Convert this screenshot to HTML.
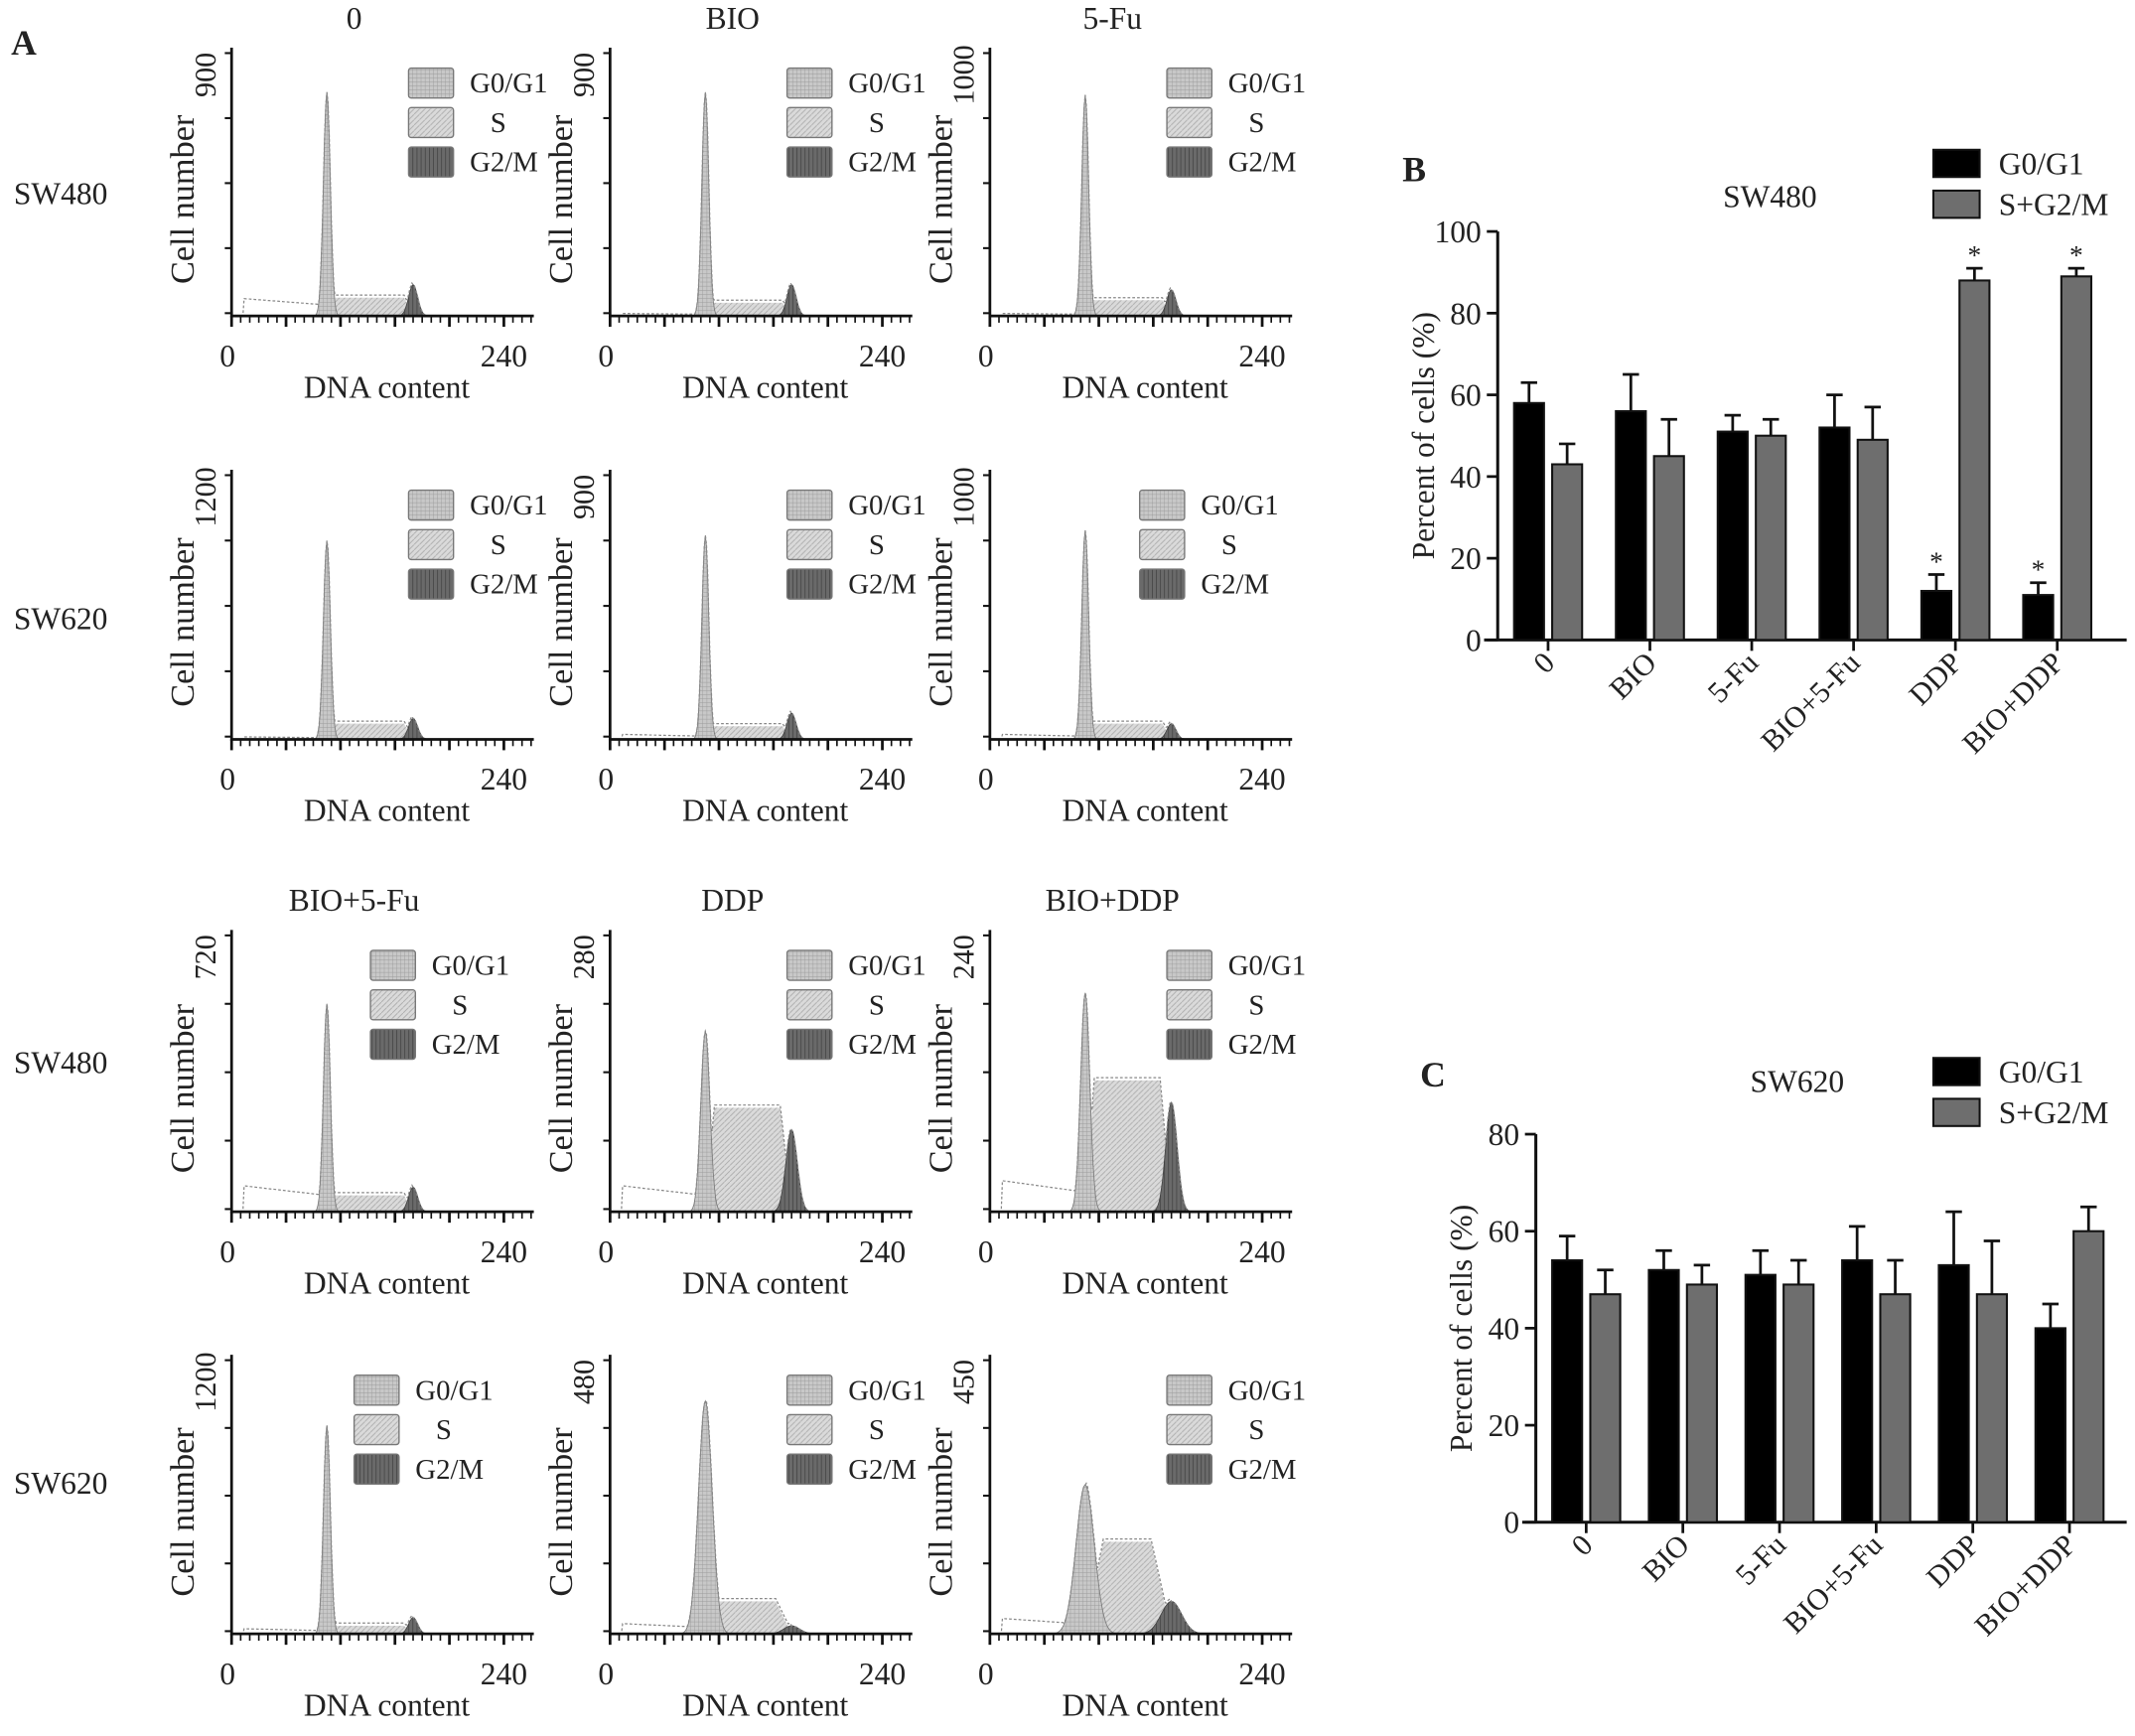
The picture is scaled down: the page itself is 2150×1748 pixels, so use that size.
<!DOCTYPE html>
<html><head><meta charset="utf-8">
<style>
html,body{margin:0;padding:0;background:#fff;}
svg{display:block;}
text{font-family:"Liberation Serif",serif;fill:#222;}
</style></head>
<body>
<svg id="fig" width="2150" height="1748" viewBox="0 0 1568 1275" xmlns="http://www.w3.org/2000/svg">
<defs>
<pattern id="hG1" width="3" height="3" patternUnits="userSpaceOnUse"><rect width="3" height="3" fill="#c8c8c8"/><path d="M0 0H3M0 0V3" stroke="#999" stroke-width="0.6"/></pattern>
<pattern id="hS" width="4" height="4" patternUnits="userSpaceOnUse"><rect width="4" height="4" fill="#dadada"/><path d="M0 4L4 0" stroke="#aaa" stroke-width="0.6"/></pattern>
<pattern id="hG2" width="3" height="3" patternUnits="userSpaceOnUse"><rect width="3" height="3" fill="#6a6a6a"/><path d="M0 0V3" stroke="#333" stroke-width="0.8"/></pattern>
</defs>
</svg>
<script>
// ---------- Panel B data ----------
const catsB = ["0","BIO","5-Fu","BIO+5-Fu","DDP","BIO+DDP"];
const g1B = [58,56,51,52,12,11];
const g1ErrB = [5,9,4,8,4,3];
const sB = [43,45,50,49,88,89];
const sErrB = [5,9,4,8,3,2];
const starB = [false,false,false,false,true,true];
// ---------- Panel C data ----------
const catsC = ["0","BIO","5-Fu","BIO+5-Fu","DDP","BIO+DDP"];
const g1C = [54,52,51,54,53,40];
const g1ErrC = [5,4,5,7,11,5];
const sC = [47,49,49,47,47,60];
const sErrC = [5,4,5,7,11,5];
// ---------- Panel A histogram parameters (fraction of axis height) ----------
const histTitles = ["0","BIO","5-Fu","","","","BIO+5-Fu","DDP","BIO+DDP","","",""];
const histYMax = ["900","900","1000","1200","900","1000","720","280","240","1200","480","450"];
const histG1 = [0.86,0.86,0.85,0.76,0.78,0.80,0.76,0.66,0.80,0.77,0.86,0.55];
const histG1W = [3,3,3,3,3,3,3,4,4,3,6,8];
const histS = [0.07,0.05,0.06,0.06,0.05,0.06,0.06,0.38,0.48,0.03,0.12,0.34];
const histG2 = [0.12,0.12,0.10,0.08,0.10,0.06,0.09,0.30,0.40,0.06,0.03,0.12];
const histNoise = [0.07,0.01,0.01,0.01,0.02,0.02,0.10,0.10,0.12,0.02,0.04,0.06];

const svg = document.getElementById('fig');
const NS = "http://www.w3.org/2000/svg";
function el(tag, attrs, parent){const e=document.createElementNS(NS,tag);for(const k in attrs)e.setAttribute(k,attrs[k]);(parent||svg).appendChild(e);return e;}
function txt(s, attrs, parent){const t=el('text',attrs,parent);t.textContent=s;return t;}

// ---------- Panel A ----------
const colX = [170,448,727];
const rowBase = [232,543,890,1200];
const rowTop = [35,345,683,995];
const rowLabels = ["SW480","SW620","SW480","SW620"];
const labA = txt("A",{x:8,y:40,'font-size':26,'font-weight':'bold'});

rowLabels.forEach((r,i)=>{
  const t=txt(r,{x:10,y:[150,462,788,1097][i],'font-size':23});
  
  
});
for(let p=0;p<12;p++){
  const row=Math.floor(p/3), col=p%3;
  const x0=colX[col], yb=rowBase[row], yt=rowTop[row];
  const H=yb-yt-6;
  const g=el('g',{});
  
  
  const xs=c=>x0+c*200/240;
  const ys=f=>yb-f*H;
  const c1=84,c2=160;
  const w1=histG1W[p], w2=w1+1;
  let g1pts=[],g2pts=[],spts=[],env=[];
  for(let c=0;c<=260;c+=1){
    const a=histG1[p]*Math.exp(-((c-c1)**2)/(2*w1*w1));
    const b=histG2[p]*Math.exp(-((c-c2)**2)/(2*w2*w2));
    let s=0; if(c>c1 && c<c2) s=histS[p]*Math.min(1,(c-c1)/(2*w1),(c2-c)/(2*w2));
    const n=(c>10&&c<c1)?histNoise[p]*(1-0.4*(c/c1)):0;
    g1pts.push([xs(c),ys(a)]);g2pts.push([xs(c),ys(b)]);spts.push([xs(c),ys(s)]);
    env.push([xs(c),ys(Math.max(a,b,s,n)+(c>c1&&c<c2?0.01:0))]);
  }
  const poly=pts=>"M"+pts.map(q=>q[0].toFixed(1)+","+q[1].toFixed(1)).join("L")+"L"+xs(260)+","+yb+"L"+x0+","+yb+"Z";
  const sp=el('path',{d:poly(spts),fill:'url(#hS)',stroke:'none'},g);
  
  const gp=el('path',{d:poly(g1pts),fill:'url(#hG1)',stroke:'#777','stroke-width':0.6},g);
  
  const g2p=el('path',{d:poly(g2pts),fill:'url(#hG2)',stroke:'#444','stroke-width':0.6},g);
  
  const ep=el('path',{d:"M"+env.map(q=>q[0].toFixed(1)+","+q[1].toFixed(1)).join("L"),fill:'none',stroke:'#888','stroke-width':0.9,'stroke-dasharray':'2,1.5'},g);
  
  const ax=el('path',{d:`M${x0},${yt}V${yb}H${x0+222}`,stroke:'#111','stroke-width':2,fill:'none'},g);
  
  for(let k=0;k<=4;k++){el('line',{x1:x0-5,x2:x0,y1:yt+4+k*(H)/4,y2:yt+4+k*H/4,stroke:'#111','stroke-width':1.5},g);}
  for(let c=0;c<=264;c+=8){const big=c%48===0;el('line',{x1:xs(c),x2:xs(c),y1:yb,y2:yb+(big?8:5),stroke:'#111','stroke-width':big?2:1.2},g);}
  const t0=txt("0",{x:x0-3,y:yb+37,'font-size':23,'text-anchor':'middle'},g);
  const t240=txt("240",{x:xs(240),y:yb+37,'font-size':23,'text-anchor':'middle'},g);
  const xl=txt("DNA content",{x:x0+114,y:yb+60,'font-size':23,'text-anchor':'middle'},g);
  const yl=txt("Cell number",{x:0,y:0,'font-size':25,'text-anchor':'middle',transform:`translate(${x0-28},${yb-H/2+10}) rotate(-90)`},g);
  const ym=txt(histYMax[p],{x:0,y:0,'font-size':22,'text-anchor':'middle',transform:`translate(${x0-12},${yt+20}) rotate(-90)`},g);
  if(histTitles[p]){const tt=txt(histTitles[p],{x:x0+90,y:yt-14,'font-size':23,'text-anchor':'middle'},g);}
  const lx=x0+(col===2&&row===1?110:(col===0&&row>=2?(row===3?90:102):130)), ly=yt+15;
  const fills=['url(#hG1)','url(#hS)','url(#hG2)'], names=['G0/G1','S','G2/M'];
  for(let k=0;k<3;k++){
    const r=el('rect',{x:lx,y:ly+k*29,width:33,height:22,fill:fills[k],stroke:'#777','stroke-width':1,rx:2},g);
    
    const lt=txt(names[k],{x:lx+(k===1?60:45),y:ly+k*29+18,'font-size':21},g);
    
  }
}

// ---------- Bar charts ----------
function barChart(o){
  const g=el('g',{});
  
  
  const y=v=>o.y0-(v/o.ymax)*(o.y0-o.ytop);
  const lab=txt(o.letter,{x:o.lx,y:o.ly,'font-size':26,'font-weight':'bold'},g);
  const tt=txt(o.title,{x:o.tx,y:o.ty,'font-size':23,'text-anchor':'middle'},g);
  const ax=el('path',{d:`M${o.ax},${o.ytop}V${o.y0}M${o.ax-10},${o.y0}H1562`,stroke:'#111','stroke-width':2.2,fill:'none'},g);
  
  for(let v=0;v<=o.ymax;v+=20){
    el('line',{x1:o.ax-8,x2:o.ax,y1:y(v),y2:y(v),stroke:'#111','stroke-width':2},g);
    const t=txt(String(v),{x:o.ax-12,y:y(v)+8,'font-size':23,'text-anchor':'end'},g);
    
  }
  const yl=txt("Percent of cells (%)",{x:0,y:0,'font-size':23,'text-anchor':'middle',transform:`translate(${o.ax-47},${(o.y0+o.ytop)/2}) rotate(-90)`},g);
  
  o.cats.forEach((c,i)=>{
    const bx=o.b0+i*o.step;
    const cx=bx+25;
    el('line',{x1:cx,x2:cx,y1:o.y0,y2:o.y0+8,stroke:'#111','stroke-width':2},g);
    const ct=txt(c,{x:0,y:0,'font-size':22,'text-anchor':'end',transform:`translate(${cx+6},${o.y0+18}) rotate(-45)`},g);
    
    [[o.a[i],o.ae[i],'#000',bx,'g0g1'],[o.b[i],o.be[i],'#6e6e6e',bx+28,'sg2m']].forEach(([v,e,f,x,n])=>{
      const eb=el('path',{d:`M${x+11},${y(v)}V${y(v+e)}M${x+5},${y(v+e)}H${x+17}`,stroke:'#111','stroke-width':2,fill:'none'},g);
      
      const r=el('rect',{x:x,y:y(v),width:22,height:o.y0-y(v),fill:f,stroke:'#111','stroke-width':1.5},g);
      
      if(o.star&&o.star[i]){const s=txt('*',{x:x+11,y:y(v+e)-3,'font-size':20,'text-anchor':'middle'},g);}
    });
  });
  [['G0/G1','#000'],['S+G2/M','#6e6e6e']].forEach(([n,f],k)=>{
    const r=el('rect',{x:1420,y:o.legY+k*30,width:34,height:20,fill:f,stroke:'#111','stroke-width':1.5},g);
    
    const t=txt(n,{x:1468,y:o.legY+k*30+18,'font-size':23},g);
  });
}
barChart({name:'panel-b-sw480-bar-chart',letter:'B',lx:1030,ly:133,title:'SW480',tx:1300,ty:152,ax:1100,y0:470,ytop:170,ymax:100,b0:1112,step:74.8,cats:catsB,a:g1B,ae:g1ErrB,b:sB,be:sErrB,star:starB,legY:110});
barChart({name:'panel-c-sw620-bar-chart',letter:'C',lx:1043,ly:798,title:'SW620',tx:1320,ty:802,ax:1128,y0:1118,ytop:833,ymax:80,b0:1140,step:71,cats:catsC,a:g1C,ae:g1ErrC,b:sC,be:sErrC,star:null,legY:777});
</script>
</body></html>
